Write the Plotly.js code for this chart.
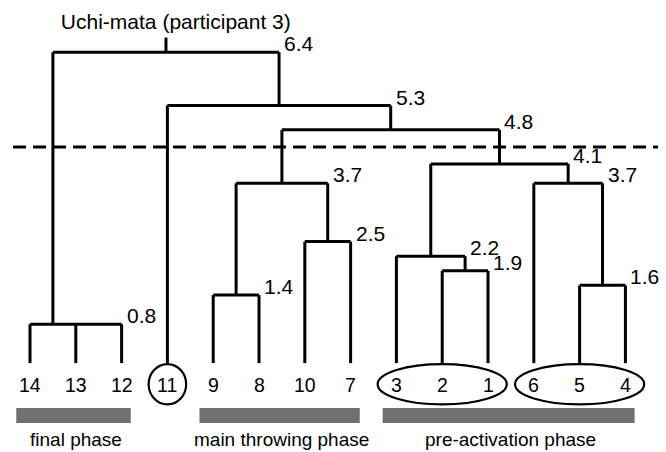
<!DOCTYPE html>
<html>
<head>
<meta charset="utf-8">
<script src="https://cdn.plot.ly/plotly-3.0.1.min.js"></script>
<style>html,body{margin:0;padding:0;background:#fff;}#chart{width:666px;height:452px;}</style>
</head>
<body>
<div id="chart"></div>
<script>
// ---- data ----
const chartTitle = 'Uchi-mata (participant 3)';
const leafOrder = ['14','13','12','11','9','8','10','7','3','2','1','6','5','4'];
const nodeNames = ['A','B','C','D','E','F','G','H','I','J','K','L'];
const nodeChildren = [
  ['14','13','12'],
  ['9','8'],
  ['10','7'],
  ['B','C'],
  ['2','1'],
  ['3','E'],
  ['5','4'],
  ['6','G'],
  ['F','H'],
  ['D','I'],
  ['11','J'],
  ['A','K']
];
const nodeHeights = [0.8, 1.4, 2.5, 3.7, 1.9, 2.2, 1.6, 3.7, 4.1, 4.8, 5.3, 6.4];
const nodeLabels = ['0.8','1.4','2.5','3.7','1.9','2.2','1.6','3.7','4.1','4.8','5.3','6.4'];
const cutoffHeight = 4.45;
const rootStemTop = 6.7;
const phaseNames = ['final phase', 'main throwing phase', 'pre-activation phase'];
const phaseLeaves = [['14','13','12'], ['9','8','10','7'], ['3','2','1','6','5','4']];
const circledGroups = [['11'], ['3','2','1'], ['6','5','4']];

// ---- layout helpers ----
const FONT = 'Liberation Sans, Arial, sans-serif';
const pos = {}, ht = {};
leafOrder.forEach((l, i) => { pos[l] = i; ht[l] = 0; });
nodeNames.forEach((n, k) => {
  const ch = nodeChildren[k];
  pos[n] = (pos[ch[0]] + pos[ch[1]]) / 2;
  ht[n] = nodeHeights[k];
});

const lx = [], ly = [];
const annotations = [];
nodeNames.forEach((n, k) => {
  const ch = nodeChildren[k];
  const xs = ch.map(c => pos[c]);
  const h = nodeHeights[k];
  const xmin = Math.min(...xs), xmax = Math.max(...xs);
  lx.push(xmin, xmax, null); ly.push(h, h, null);
  ch.forEach(c => { lx.push(pos[c], pos[c], null); ly.push(ht[c], h, null); });
  annotations.push({
    x: xmax, y: h, xref: 'x', yref: 'y', text: nodeLabels[k], showarrow: false,
    xanchor: 'left', yanchor: 'bottom', xshift: 3, yshift: -5,
    font: {family: FONT, size: 21, color: '#000'}
  });
});
const root = nodeNames[nodeNames.length - 1];
lx.push(pos[root], pos[root], null); ly.push(ht[root], rootStemTop, null);

leafOrder.forEach((l, i) => {
  annotations.push({
    x: i, y: -0.45, xref: 'x', yref: 'y', text: l, showarrow: false,
    xanchor: 'center', yanchor: 'middle',
    font: {family: FONT, size: 19.5, color: '#000'}
  });
});

const shapes = [];
circledGroups.forEach(g => {
  const xs = g.map(l => pos[l]);
  shapes.push({
    type: 'circle', xref: 'x', yref: 'y',
    x0: Math.min(...xs) - 0.41, x1: Math.max(...xs) + 0.41, y0: -0.85, y1: -0.02,
    line: {color: '#000', width: 2.2}, fillcolor: 'rgba(0,0,0,0)'
  });
});
phaseLeaves.forEach((g, k) => {
  const xs = g.map(l => pos[l]);
  const a = Math.min(...xs), b = Math.max(...xs);
  shapes.push({
    type: 'rect', xref: 'x', yref: 'y', x0: a - 0.3, x1: b + 0.2, y0: -1.235, y1: -0.926,
    fillcolor: '#707070', line: {width: 0}
  });
  annotations.push({
    x: (a + b) / 2, y: -1.58, xref: 'x', yref: 'y', text: phaseNames[k], showarrow: false,
    xanchor: 'center', yanchor: 'middle',
    font: {family: FONT, size: 19, color: '#000'}
  });
});

const traces = [
  {x: lx, y: ly, mode: 'lines', line: {color: '#000', width: 3}, hoverinfo: 'skip', connectgaps: false},
  {x: [-0.37, 13.71], y: [cutoffHeight, cutoffHeight], mode: 'lines',
   line: {color: '#000', width: 3, dash: '13px,7px'}, hoverinfo: 'skip'}
];

const layout = {
  width: 666, height: 452,
  margin: {l: 0, r: 0, t: 0, b: 0},
  paper_bgcolor: '#fff', plot_bgcolor: '#fff',
  showlegend: false, hovermode: false,
  title: {text: chartTitle, font: {family: FONT, size: 21, color: '#000'},
          x: 0.264, xanchor: 'center', y: 0.953, yanchor: 'middle'},
  xaxis: {range: [-0.655, 13.886], visible: false, fixedrange: true},
  yaxis: {range: [-1.83, 7.473], visible: false, fixedrange: true},
  shapes: shapes,
  annotations: annotations
};

Plotly.newPlot('chart', traces, layout, {staticPlot: true, displayModeBar: false});
</script>
</body>
</html>
